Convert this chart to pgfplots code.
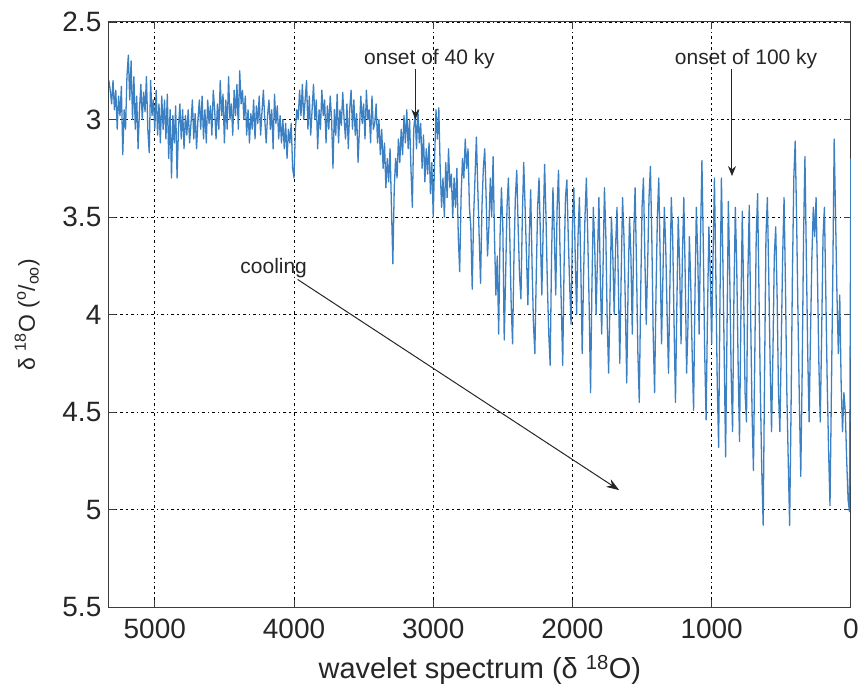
\documentclass[border=0pt]{standalone}
\usepackage{pgfplots}
\pgfplotsset{compat=1.18}
\usepackage{fontspec}
\setmainfont{Liberation Sans}
\usetikzlibrary{arrows.meta}
\definecolor{seriesblue}{RGB}{58,128,195}
\definecolor{axisgray}{RGB}{60,60,60}
\begin{document}
\begin{tikzpicture}
\begin{axis}[
  scale only axis,
  width=743pt, height=586pt,
  x dir=reverse, y dir=reverse,
  xmin=0, xmax=5330, ymin=2.5, ymax=5.5,
  xtick={0,1000,2000,3000,4000,5000},
  ytick={2.5,3,3.5,4,4.5,5,5.5},
  /pgf/number format/assume math mode=true,
  /pgf/number format/set thousands separator={},
  tick label style={font=\fontsize{28}{32}\selectfont, text=black!85},
  xticklabel style={yshift=-8pt},
  yticklabel style={xshift=-4pt},
  tick align=inside,
  major tick length=7pt,
  every tick/.style={axisgray, line width=0.9pt},
  axis line style={axisgray, line width=1pt},
  grid=major,
  major grid style={black, line width=0.8pt, dash pattern=on 1.2pt off 3pt on 3pt off 3pt},
  xlabel={wavelet spectrum (δ \textsuperscript{18}O)},
  xlabel style={font=\fontsize{29}{33}\selectfont, text=black!85, yshift=-10pt},
  ylabel={δ \textsuperscript{18}O (\textsuperscript{o}/\textsubscript{oo})},
  ylabel style={font=\fontsize{23}{27}\selectfont, text=black!85, yshift=16pt},
  clip=true,
]
\addplot[seriesblue, line width=1.3pt, line join=round] table[row sep=\\] {
x y\\
5330 2.80\\ 5320 2.85\\ 5310 2.92\\ 5300 2.80\\ 5290 2.95\\ 5280 2.85\\ 5270 3.05\\ 5260 2.88\\ 5250 2.98\\ 5240 2.83\\ 5230 3.18\\
5220 2.95\\ 5210 3.05\\ 5200 2.78\\ 5190 2.67\\ 5180 2.90\\ 5170 2.70\\ 5160 3.00\\ 5150 2.78\\ 5140 3.05\\ 5130 2.88\\
5120 3.15\\ 5110 2.95\\ 5100 2.82\\ 5090 3.00\\ 5080 2.86\\ 5070 2.96\\ 5060 2.78\\ 5050 3.05\\ 5040 3.17\\ 5030 2.80\\
5020 2.98\\ 5010 2.90\\ 5000 3.05\\ 4990 2.85\\ 4980 3.08\\ 4970 2.92\\ 4960 3.12\\ 4950 2.88\\ 4940 3.05\\ 4930 2.90\\
4920 3.10\\ 4910 2.87\\ 4900 3.20\\ 4890 2.95\\ 4880 3.30\\ 4870 2.98\\ 4860 3.12\\ 4850 2.93\\ 4840 3.30\\ 4830 3.05\\
4820 2.92\\ 4810 3.10\\ 4800 2.95\\ 4790 3.15\\ 4780 2.98\\ 4770 3.08\\ 4760 2.95\\ 4750 3.12\\ 4740 3.02\\ 4730 2.90\\
4720 3.10\\ 4710 2.97\\ 4700 3.15\\ 4690 3.00\\ 4680 2.90\\ 4670 3.05\\ 4660 2.88\\ 4650 3.10\\ 4640 2.95\\ 4630 3.12\\
4620 2.90\\ 4610 3.02\\ 4600 2.93\\ 4590 3.08\\ 4580 2.85\\ 4570 2.95\\ 4560 3.10\\ 4550 2.92\\ 4540 3.05\\ 4530 2.80\\
4520 2.98\\ 4510 2.87\\ 4500 3.12\\ 4490 2.90\\ 4480 3.05\\ 4470 2.78\\ 4460 3.00\\ 4450 2.92\\ 4440 3.08\\ 4430 2.85\\
4420 2.98\\ 4410 2.82\\ 4400 3.05\\ 4390 2.75\\ 4380 2.92\\ 4370 2.85\\ 4360 3.00\\ 4350 2.88\\ 4340 3.08\\ 4330 2.95\\
4320 3.12\\ 4310 2.97\\ 4300 3.05\\ 4290 2.90\\ 4280 3.10\\ 4270 2.93\\ 4260 3.02\\ 4250 2.88\\ 4240 3.08\\ 4230 2.96\\
4220 2.85\\ 4210 3.00\\ 4200 3.12\\ 4190 2.98\\ 4180 2.90\\ 4170 3.05\\ 4160 2.95\\ 4150 3.15\\ 4140 2.87\\ 4130 3.02\\
4120 2.93\\ 4110 3.10\\ 4100 2.98\\ 4090 3.12\\ 4080 3.00\\ 4070 3.15\\ 4060 3.02\\ 4050 3.20\\ 4040 3.05\\ 4030 3.12\\
4020 3.02\\ 4010 3.25\\ 4000 3.30\\ 3990 3.05\\ 3980 2.95\\ 3970 3.00\\ 3960 2.85\\ 3950 2.98\\ 3940 2.82\\ 3930 3.00\\
3920 2.90\\ 3910 2.80\\ 3900 3.05\\ 3890 2.88\\ 3880 3.08\\ 3870 2.95\\ 3860 2.82\\ 3850 3.00\\ 3840 2.90\\ 3830 3.15\\
3820 2.95\\ 3810 3.05\\ 3800 2.85\\ 3790 2.98\\ 3780 2.90\\ 3770 3.12\\ 3760 2.93\\ 3750 3.05\\ 3740 2.88\\ 3730 3.00\\
3720 3.25\\ 3710 2.95\\ 3700 3.08\\ 3690 2.87\\ 3680 3.12\\ 3670 2.95\\ 3660 3.03\\ 3650 2.86\\ 3640 3.00\\ 3630 3.10\\
3620 2.92\\ 3610 3.15\\ 3600 2.95\\ 3590 2.85\\ 3580 3.05\\ 3570 2.90\\ 3560 3.08\\ 3550 2.97\\ 3540 3.22\\ 3530 3.05\\
3520 2.88\\ 3510 3.02\\ 3500 2.92\\ 3490 3.10\\ 3480 2.85\\ 3470 3.00\\ 3460 2.95\\ 3450 3.12\\ 3440 2.88\\ 3430 3.05\\
3420 3.02\\ 3410 2.92\\ 3400 3.12\\ 3390 3.00\\ 3380 3.18\\ 3370 3.05\\ 3360 3.25\\ 3350 3.12\\ 3340 3.35\\ 3330 3.20\\
3320 3.32\\ 3310 3.15\\ 3300 3.45\\ 3290 3.74\\ 3280 3.35\\ 3270 3.20\\ 3260 3.30\\ 3250 3.10\\ 3240 3.22\\ 3230 3.05\\
3220 3.18\\ 3210 2.98\\ 3200 3.12\\ 3190 2.95\\ 3180 3.15\\ 3170 3.00\\ 3160 3.25\\ 3150 3.45\\ 3140 3.05\\ 3130 2.97\\
3120 3.15\\ 3110 2.95\\ 3100 3.12\\ 3090 3.02\\ 3080 3.25\\ 3070 3.08\\ 3060 3.32\\ 3050 3.15\\ 3040 3.28\\ 3030 3.12\\
3020 3.38\\ 3010 3.22\\ 3000 3.50\\ 2990 3.20\\ 2980 2.95\\ 2970 3.10\\ 2960 2.94\\ 2950 3.25\\ 2940 3.45\\ 2930 3.30\\
2920 3.50\\ 2910 3.22\\ 2900 3.40\\ 2890 3.15\\ 2880 3.35\\ 2870 3.28\\ 2860 3.50\\ 2850 3.30\\ 2840 3.45\\ 2830 3.25\\
2820 3.60\\ 2810 3.78\\ 2800 3.40\\ 2790 3.20\\ 2780 3.30\\ 2770 3.10\\ 2760 3.25\\ 2750 3.15\\ 2740 3.45\\ 2730 3.55\\
2720 3.87\\ 2710 3.50\\ 2700 3.30\\ 2690 3.09\\ 2680 3.35\\ 2670 3.60\\ 2660 3.84\\ 2650 3.45\\ 2640 3.25\\ 2630 3.15\\
2620 3.40\\ 2610 3.70\\ 2600 3.55\\ 2590 3.30\\ 2580 3.50\\ 2570 3.19\\ 2560 3.60\\ 2550 3.90\\ 2540 3.70\\ 2530 4.10\\
2520 3.60\\ 2510 3.35\\ 2500 3.55\\ 2490 4.13\\ 2480 3.80\\ 2470 3.45\\ 2460 3.30\\ 2450 3.60\\ 2440 3.95\\ 2430 4.15\\
2420 3.70\\ 2410 3.40\\ 2400 3.26\\ 2390 3.55\\ 2380 3.80\\ 2370 3.92\\ 2360 3.50\\ 2350 3.22\\ 2340 3.45\\ 2330 3.70\\
2320 3.95\\ 2310 3.60\\ 2300 3.36\\ 2290 3.75\\ 2280 4.05\\ 2270 4.20\\ 2260 3.80\\ 2250 3.45\\ 2240 3.30\\ 2230 3.60\\
2220 3.90\\ 2210 3.55\\ 2200 3.23\\ 2190 3.50\\ 2180 3.85\\ 2170 4.10\\ 2160 4.26\\ 2150 3.70\\ 2140 3.35\\ 2130 3.60\\
2120 3.90\\ 2110 3.45\\ 2100 3.26\\ 2090 3.65\\ 2080 3.95\\ 2070 4.26\\ 2060 3.75\\ 2050 3.40\\ 2040 3.31\\ 2030 3.60\\
2020 3.85\\ 2010 4.05\\ 2000 3.55\\ 1990 3.35\\ 1980 3.70\\ 1970 4.00\\ 1960 3.60\\ 1950 3.40\\ 1940 3.75\\ 1930 4.20\\
1920 3.80\\ 1910 3.50\\ 1900 3.30\\ 1890 3.60\\ 1880 3.95\\ 1870 4.40\\ 1860 3.85\\ 1850 3.45\\ 1840 3.65\\ 1830 4.00\\
1820 3.70\\ 1810 3.40\\ 1800 3.80\\ 1790 4.10\\ 1780 3.75\\ 1770 3.35\\ 1760 3.60\\ 1750 4.05\\ 1740 4.30\\ 1730 3.90\\
1720 3.50\\ 1710 3.70\\ 1700 4.00\\ 1690 3.65\\ 1680 3.45\\ 1670 3.85\\ 1660 4.25\\ 1650 3.80\\ 1640 3.40\\ 1630 3.60\\
1620 3.95\\ 1610 4.35\\ 1600 3.85\\ 1590 3.50\\ 1580 3.70\\ 1570 4.10\\ 1560 3.60\\ 1550 3.35\\ 1540 3.75\\ 1530 4.20\\
1520 4.45\\ 1510 3.90\\ 1500 3.45\\ 1490 3.30\\ 1480 3.70\\ 1470 4.05\\ 1460 3.75\\ 1450 3.40\\ 1440 3.24\\ 1430 3.60\\
1420 4.10\\ 1410 4.40\\ 1400 3.90\\ 1390 3.50\\ 1380 3.30\\ 1370 3.70\\ 1360 4.15\\ 1350 3.80\\ 1340 3.45\\ 1330 3.65\\
1320 4.00\\ 1310 4.30\\ 1300 3.85\\ 1290 3.40\\ 1280 3.60\\ 1270 4.05\\ 1260 4.45\\ 1250 3.95\\ 1240 3.50\\ 1230 3.75\\
1220 4.15\\ 1210 3.70\\ 1200 3.40\\ 1190 3.80\\ 1180 4.30\\ 1170 4.05\\ 1160 3.60\\ 1150 3.85\\ 1140 4.20\\ 1130 4.49\\
1120 3.90\\ 1110 3.45\\ 1100 3.70\\ 1090 4.10\\ 1080 3.60\\ 1070 3.21\\ 1060 3.65\\ 1050 4.20\\ 1040 4.54\\ 1030 4.00\\
1020 3.55\\ 1010 3.80\\ 1000 4.15\\ 990 3.70\\ 980 3.30\\ 970 3.80\\ 960 4.35\\ 950 4.68\\ 940 3.90\\ 930 3.30\\
920 3.70\\ 910 4.20\\ 900 4.73\\ 890 4.10\\ 880 3.42\\ 870 3.80\\ 860 4.30\\ 850 4.60\\ 840 3.90\\ 830 3.45\\
820 3.75\\ 810 4.25\\ 800 4.65\\ 790 4.00\\ 780 3.47\\ 770 3.90\\ 760 4.40\\ 750 4.55\\ 740 3.80\\ 730 3.44\\
720 4.00\\ 710 4.50\\ 700 4.80\\ 690 4.20\\ 680 3.60\\ 670 3.38\\ 660 3.90\\ 650 4.40\\ 640 4.80\\ 630 5.08\\
620 4.30\\ 610 3.60\\ 600 3.40\\ 590 3.80\\ 580 4.25\\ 570 4.60\\ 560 4.20\\ 550 3.70\\ 540 3.55\\ 530 3.90\\
520 4.40\\ 510 4.60\\ 500 4.15\\ 490 3.70\\ 480 3.40\\ 470 3.85\\ 460 4.40\\ 450 4.75\\ 440 5.08\\ 430 4.50\\
420 3.80\\ 410 3.30\\ 400 3.11\\ 390 3.50\\ 380 4.00\\ 370 4.45\\ 360 4.83\\ 350 4.30\\ 340 3.60\\ 330 3.19\\
320 3.70\\ 310 4.20\\ 300 4.55\\ 290 4.10\\ 280 3.70\\ 270 3.45\\ 260 3.60\\ 250 3.40\\ 240 3.80\\ 230 4.25\\
220 4.55\\ 210 4.10\\ 200 3.60\\ 190 3.45\\ 180 3.90\\ 170 4.35\\ 160 4.70\\ 150 4.98\\ 140 4.40\\ 130 3.80\\
120 3.10\\ 110 3.50\\ 100 3.90\\ 90 4.20\\ 80 3.90\\ 70 4.35\\ 60 4.60\\ 50 4.40\\ 40 4.50\\ 30 4.75\\
20 4.95\\ 10 5.01\\ 0 3.20\\
};
% annotations
\node[font=\fontsize{21}{25}\selectfont, text=black!85] at (axis cs:3027,2.69) {onset of 40 ky};
\draw[black!85, line width=1pt, -{Stealth[length=10pt,width=8pt]}] (axis cs:3128,2.74) -- (axis cs:3128,3.0);
\node[font=\fontsize{21}{25}\selectfont, text=black!85] at (axis cs:753,2.69) {onset of 100 ky};
\draw[black!85, line width=1pt, -{Stealth[length=10pt,width=8pt]}] (axis cs:854,2.74) -- (axis cs:854,3.29);
\node[font=\fontsize{21}{25}\selectfont, text=black!85] at (axis cs:4146,3.76) {cooling};
\draw[black!85, line width=1pt, -{Stealth[length=13pt,width=9pt]}] (axis cs:3974,3.82) -- (axis cs:1664,4.90);
\end{axis}
\path ([shift={(-109pt,22pt)}]current axis.north west) rectangle ([shift={(10pt,-92pt)}]current axis.south east);
\end{tikzpicture}
\end{document}
